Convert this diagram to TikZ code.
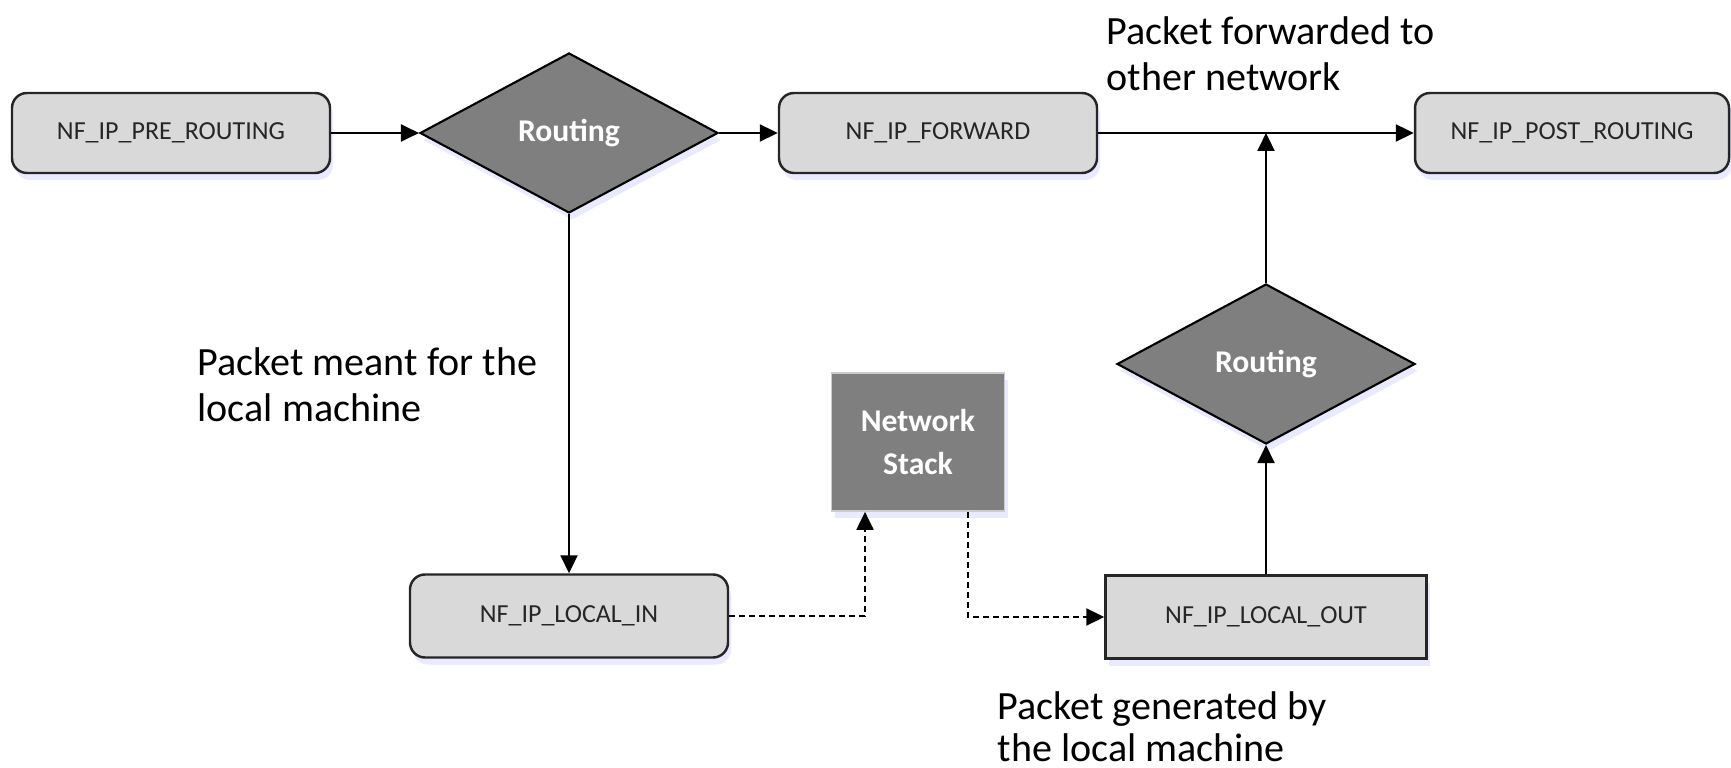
\documentclass[tikz,border=0pt]{standalone}
\usepackage{fontspec}
\setmainfont{Carlito}
\usetikzlibrary{shapes.geometric,arrows.meta,calc,shadows}
\definecolor{hookfill}{HTML}{D9D9D9}
\definecolor{routefill}{HTML}{7F7F7F}
\definecolor{hooktext}{HTML}{262626}

\begin{document}
\begin{tikzpicture}[x=0.1mm,y=-0.1mm,
	glow/.style={drop shadow={shadow xshift=0.3mm,shadow yshift=-0.7mm,opacity=0.25,fill=blue!35!white}},
	hook/.style={draw=black!85,line width=0.7pt,fill=hookfill,rounded corners=1.5mm,
		minimum width=31.8mm,minimum height=8mm,text=hooktext,
		font=\fontsize{7.4}{9}\selectfont,glow},
	plainhook/.style={hook,rounded corners=0pt},
	routing/.style={diamond,draw=black,line width=0.6pt,fill=routefill,aspect=1.86,
		inner sep=0pt,minimum width=29.8mm,minimum height=16mm,text=white,
		font=\bfseries\fontsize{9}{11}\selectfont,glow},
	stack/.style={draw=black!20,line width=0.5pt,fill=routefill,minimum width=17.3mm,
		minimum height=13.8mm,text=white,align=center,
		font=\bfseries\fontsize{9}{12}\selectfont,glow},
	flow/.style={line width=0.6pt,-{Triangle[length=1.8mm,width=1.7mm]}},
	dflow/.style={flow,dash pattern=on 0.6mm off 0.4mm},
	note/.style={anchor=west,align=left,inner sep=0pt,font=\fontsize{11.4}{13.1}\selectfont}]
	\useasboundingbox (0,0) rectangle (1731,768);

	% hooks
	\node[hook] (pre) at (171,133) {NF\_IP\_PRE\_ROUTING};
	\node[routing] (r1) at (569,133) {Routing};
	\node[hook] (fwd) at (938,133) {NF\_IP\_FORWARD};
	\node[hook,minimum width=31.4mm] (post) at (1572,133) {NF\_IP\_POST\_ROUTING};
	\node[routing] (r2) at (1266,364) {Routing};
	\node[stack] (ns) at (918,442) {Network\\Stack};
	\node[hook,minimum height=8.3mm] (in) at (569,616) {NF\_IP\_LOCAL\_IN};
	\node[plainhook,minimum width=32.1mm,minimum height=8.3mm] (out) at (1266,617) {NF\_IP\_LOCAL\_OUT};

	% arrows
	\draw[flow] (pre) -- (r1);
	\draw[flow] (r1) -- (fwd);
	\draw[flow] (fwd) -- (post);
	\draw[flow] (r1) -- (in);
	\draw[flow] (out) -- (r2);
	\draw[flow] (r2.north) -- (r2.north |- fwd.east);
	\draw[dflow] (in.east) -| ([xshift=-5.3mm]ns.south);
	\draw[dflow] ([xshift=5mm]ns.south) |- (out.west);

	% labels
	\node[note] (fwdnote) at (1106,54) {Packet forwarded to\\other network};
	\node[note] (innote) at (197,385) {Packet meant for the\\local machine};
	\node[note,font=\fontsize{11.4}{12}\selectfont] (outnote) at (997,727) {Packet generated by\\the local machine};
\end{tikzpicture}
\end{document}
